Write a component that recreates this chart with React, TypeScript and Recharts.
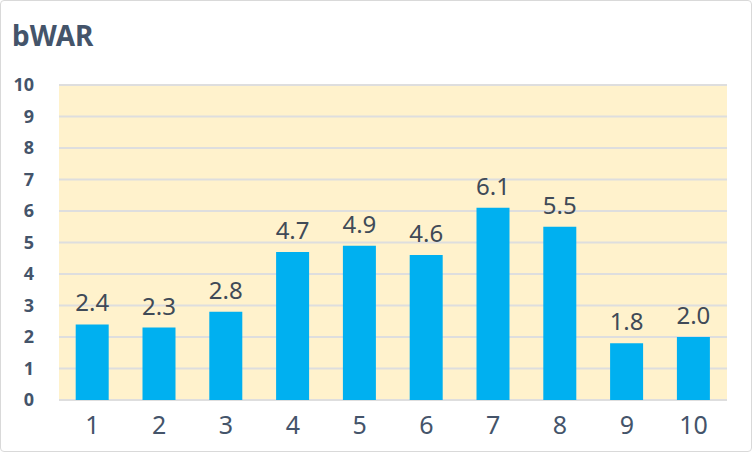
import { BarChart, Bar, XAxis, YAxis, CartesianGrid, LabelList } from "recharts";

const seasons = ["1", "2", "3", "4", "5", "6", "7", "8", "9", "10"];
const bwar = [2.4, 2.3, 2.8, 4.7, 4.9, 4.6, 6.1, 5.5, 1.8, 2.0];
const yTicks = [0, 1, 2, 3, 4, 5, 6, 7, 8, 9, 10];

const data = seasons.map((season, i) => ({ season, bwar: bwar[i] }));

const FONT = "'Noto Sans', 'Open Sans', sans-serif";
const SLATE = "#44546A";

export default function App() {
  return (
    <div
      style={{
        position: "fixed",
        left: 0,
        top: 0,
        width: 752,
        height: 452,
        boxSizing: "border-box",
        border: "1px solid #d9d9d9",
        borderRadius: 4,
        background: "#fff",
        fontFamily: FONT,
      }}
    >
      <div
        style={{
          position: "absolute",
          left: 11,
          top: 14,
          fontSize: 28,
          fontWeight: 700,
          color: SLATE,
          lineHeight: "40px",
        }}
      >
        bWAR
      </div>
      <div style={{ position: "absolute", left: -1, top: -1 }}>
        <BarChart
          width={752}
          height={452}
          data={data}
          margin={{ top: 85, right: 25, bottom: 12, left: 0 }}
          barCategoryGap="25%"
        >
          <CartesianGrid
            vertical={false}
            fill="#FFF2CC"
            stroke="#dedede"
            strokeWidth={2}
          />
          <XAxis
            dataKey="season"
            height={40}
            axisLine={false}
            tickLine={false}
            tickMargin={10}
            tick={{ fontSize: 25, fill: SLATE, fontFamily: FONT }}
          />
          <YAxis
            width={59}
            domain={[0, 10]}
            ticks={yTicks}
            interval={0}
            axisLine={false}
            tickLine={false}
            tickMargin={19}
            tick={{ fontSize: 18, fontWeight: 700, fill: SLATE, fontFamily: FONT }}
          />
          <Bar dataKey="bwar" fill="#00B0F0" isAnimationActive={false}>
            <LabelList
              dataKey="bwar"
              position="top"
              offset={13}
              formatter={(v: number) => v.toFixed(1)}
              style={{ fontSize: 24, fill: "#404a57", fontFamily: FONT }}
            />
          </Bar>
        </BarChart>
      </div>
    </div>
  );
}
